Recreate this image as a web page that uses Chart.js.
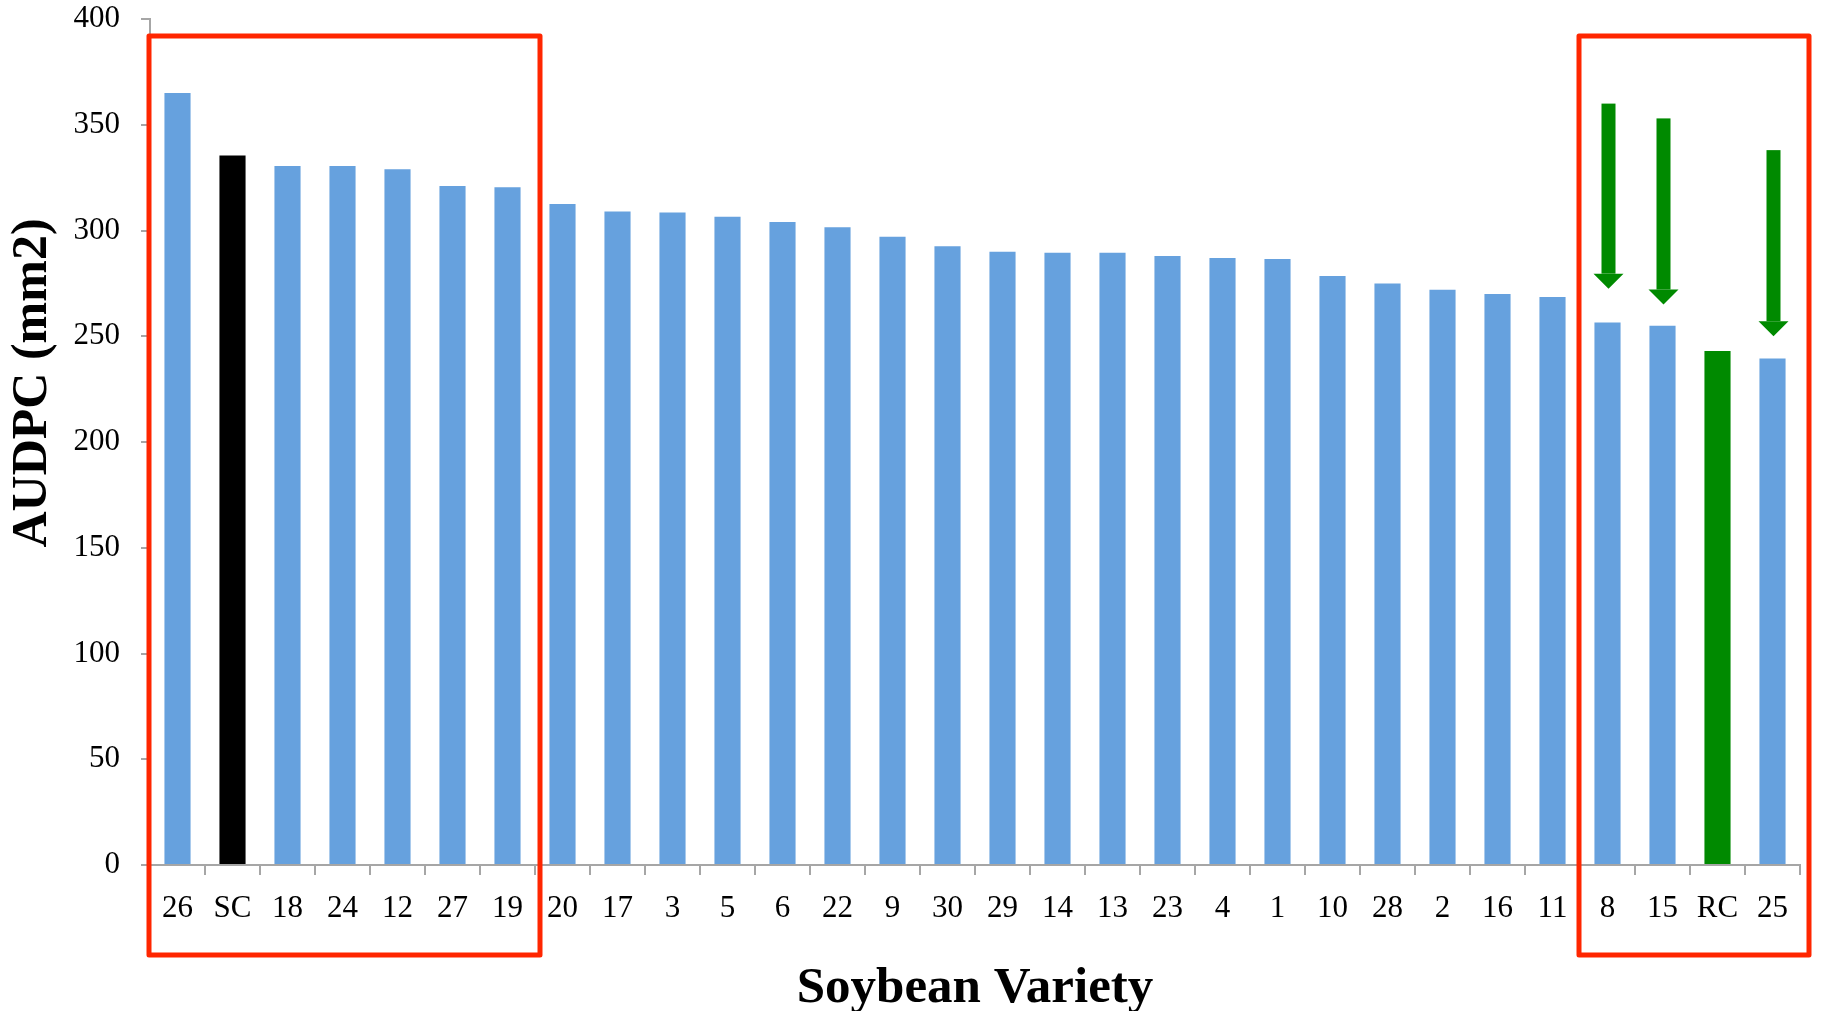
<!DOCTYPE html>
<html>
<head>
<meta charset="utf-8">
<script src="https://cdn.jsdelivr.net/npm/chart.js@4.4.1/dist/chart.umd.min.js"></script>
<style>
  html, body { margin: 0; padding: 0; background: #fff; }
  #wrap { width: 1831px; height: 1011px; }
</style>
</head>
<body>
<div id="wrap"><canvas id="chart"></canvas></div>
<script>
// soybean varieties, sorted by AUDPC
const varieties = ['26','SC','18','24','12','27','19','20','17','3','5','6','22','9','30',
                   '29','14','13','23','4','1','10','28','2','16','11','8','15','RC','25'];
const audpc = [365, 335.5, 330.5, 330.5, 329, 321, 320.5, 312.5, 309, 308.5, 306.5, 304, 301.5, 297, 292.5,
               290, 289.5, 289.5, 288, 287, 286.5, 278.5, 275, 272, 270, 268.5, 256.5, 255, 243, 239.5];
const yTicks = [0, 50, 100, 150, 200, 250, 300, 350, 400];

// highlighted groups and arrows
const boxFrom = ['26', '8'];
const boxTo = ['19', '25'];
const boxTopValue = 392;
const arrowAt = ['8', '15', '25'];
const arrowTop = [360, 353, 338];
const arrowTip = [272.5, 265, 250];

const serif = '"Liberation Serif", "DejaVu Serif", serif';
const axisGray = '#a6a6a6';

let barColors = varieties.map(function(v) {
  if (v == 'SC') return '#000000';
  if (v == 'RC') return '#008a00';
  return '#66a1de';
});

const marksPlugin = {
  id: 'marks',
  afterDatasetsDraw(chart) {
    let ctx = chart.ctx;
    let x = chart.scales.x, y = chart.scales.y;
    let half = (x.getPixelForValue(1) - x.getPixelForValue(0)) / 2;
    ctx.save();
    // red boxes
    ctx.strokeStyle = '#ff2600';
    ctx.lineWidth = 5;
    ctx.lineJoin = 'round';
    let padR = [5, 9];
    for (let i = 0; i < boxFrom.length; i++) {
      let l = x.getPixelForValue(varieties.indexOf(boxFrom[i])) - half - 1;
      let r = x.getPixelForValue(varieties.indexOf(boxTo[i])) + half + padR[i];
      let t = y.getPixelForValue(boxTopValue);
      let b = y.getPixelForValue(0) + 90;
      ctx.strokeRect(l, t, r - l, b - t);
    }
    // green arrows
    ctx.fillStyle = '#008a00';
    for (let i = 0; i < arrowAt.length; i++) {
      let cx = x.getPixelForValue(varieties.indexOf(arrowAt[i])) + 1;
      let top = y.getPixelForValue(arrowTop[i]);
      let tip = y.getPixelForValue(arrowTip[i]);
      let base = tip - 15;
      ctx.fillRect(cx - 7, top, 14, base - top);
      ctx.beginPath();
      ctx.moveTo(cx - 15, base);
      ctx.lineTo(cx + 15, base);
      ctx.lineTo(cx, tip);
      ctx.closePath();
      ctx.fill();
    }
    ctx.restore();
  },
  afterDraw(chart) {
    // y axis title, sits a bit above the middle in the reference
    let ctx = chart.ctx;
    let area = chart.chartArea;
    ctx.save();
    ctx.translate(33, (area.top + area.bottom) / 2 - 59);
    ctx.rotate(-Math.PI / 2);
    ctx.font = 'bold 50px ' + serif;
    ctx.fillStyle = '#000';
    ctx.textAlign = 'center';
    ctx.textBaseline = 'middle';
    ctx.fillText('AUDPC (mm2)', 0, 0);
    ctx.restore();
  }
};

let config = {
  type: 'bar',
  data: {
    labels: varieties,
    datasets: [{
      data: audpc,
      backgroundColor: barColors,
      borderWidth: 0,
      barPercentage: 0.95,
      categoryPercentage: 0.5
    }]
  },
  options: {
    responsive: true,
    maintainAspectRatio: false,
    animation: false,
    layout: { padding: { left: 0, right: 31, top: 19, bottom: 0 } },
    plugins: {
      legend: { display: false },
      tooltip: { enabled: false }
    },
    scales: {
      x: {
        grid: { drawOnChartArea: false, tickLength: 10, lineWidth: 2, color: axisGray, offset: true },
        border: { color: axisGray, width: 2 },
        ticks: {
          autoSkip: false, maxRotation: 0, color: '#000', padding: 18,
          font: { family: serif, size: 31, lineHeight: 1 }
        },
        title: {
          display: true, text: 'Soybean Variety', color: '#000',
          font: { family: serif, size: 51, weight: 'bold', lineHeight: 0.88 },
          padding: 0
        },
        afterFit: function(scale) { scale.height = 146; }
      },
      y: {
        min: 0,
        max: 400,
        grid: { drawOnChartArea: false, tickLength: 9, lineWidth: 2, color: axisGray },
        border: { color: axisGray, width: 2 },
        ticks: {
          color: '#000', padding: 21,
          font: { family: serif, size: 31, lineHeight: 1 }
        },
        afterBuildTicks: function(scale) {
          scale.ticks = yTicks.map(function(v) { return { value: v }; });
        },
        afterFit: function(scale) {
          scale.width = 150;
          scale.paddingTop = 0;
          scale.paddingBottom = 0;
        }
      }
    }
  },
  plugins: [marksPlugin]
};

let chart = new Chart(document.getElementById('chart'), config);
</script>
</body>
</html>
